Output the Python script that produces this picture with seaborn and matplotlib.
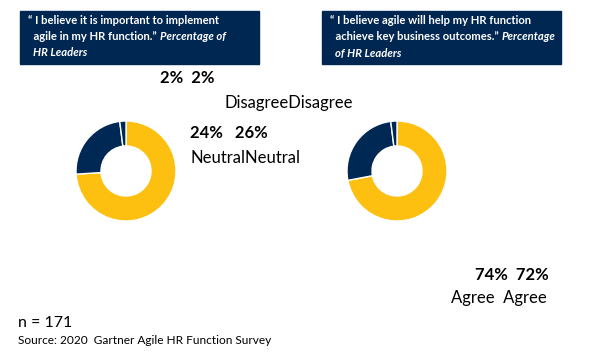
import matplotlib.pyplot as plt
from matplotlib.text import Annotation
import seaborn as sns

sns.set_theme(style="white")
plt.rcParams['font.family'] = ['Lato', 'DejaVu Sans']

# Dados
categorias = ['Agree', 'Neutral', 'Disagree']
importante = [74, 24, 2]
resultados = [72, 26, 2]
titulo1_bold = ['\u201c I believe it is important to implement', '  agile in my HR function.\u201d ']
titulo1_ital = ['Percentage of', '  HR Leaders']
titulo2_bold = ['\u201c I believe agile will help my HR function', '  achieve key business outcomes.\u201d ']
titulo2_ital = ['Percentage', '  of HR Leaders']
amostra = 'n = 171'
fonte = 'Source: 2020  Gartner Agile HR Function Survey'

amarelo = '#FDC010'
marinho = '#002855'
cores = [amarelo, marinho, marinho]

W, H = 593, 359
fig = plt.figure(figsize=(W / 100, H / 100), dpi=100)


def px(x, y):
    return x / W, 1 - y / H


def donut(cx, cy, r, valores):
    ax = fig.add_axes([(cx - r) / W, 1 - (cy + r) / H, 2 * r / W, 2 * r / H])
    ax.pie(valores, colors=cores, startangle=90, counterclock=False,
           wedgeprops=dict(width=0.5, edgecolor='white', linewidth=1))
    ax.set_xlim(-1.02, 1.02)
    ax.set_ylim(-1.02, 1.02)
    ax.set_aspect('equal')
    ax.axis('off')


donut(126, 171, 51, importante)
donut(397, 171, 51, resultados)

# Caixas de título
tam = 8.1
for (x0, x1, bold, ital) in [(20, 259, titulo1_bold, titulo1_ital),
                             (322, 561, titulo2_bold, titulo2_ital)]:
    fig.patches.append(plt.Rectangle(px(x0, 64), (x1 - x0) / W, 53 / H,
                                     transform=fig.transFigure, color='#002652'))
    fig.text(*px(x0 + 8, 21), bold[0], color='white', fontsize=tam,
             fontweight='bold', va='center', ha='left')
    t = fig.text(*px(x0 + 8, 37), bold[1], color='white', fontsize=tam,
                 fontweight='bold', va='center', ha='left')
    fig.add_artist(Annotation(ital[0], xy=(1, 0.5), xycoords=t, va='center',
                              ha='left', color='white', fontsize=tam,
                              fontweight='bold', style='italic'))
    fig.text(*px(x0 + 8, 53), ital[1], color='white', fontsize=tam,
             fontweight='bold', style='italic', va='center', ha='left')

# Rótulos
fig.text(*px(160, 78), f'{importante[2]}%  {resultados[2]}%', fontsize=12,
         fontweight='bold', va='center', color='black')
fig.text(*px(225, 103), categorias[2] + categorias[2], fontsize=12,
         va='center', color='black')
fig.text(*px(190, 133), f'{importante[1]}%   {resultados[1]}%', fontsize=12,
         fontweight='bold', va='center', color='black')
fig.text(*px(190, 158), categorias[1] + categorias[1], fontsize=12,
         va='center', color='black')
fig.text(*px(475, 275), f'{importante[0]}%  {resultados[0]}%', fontsize=12,
         fontweight='bold', va='center', color='black')
fig.text(*px(451, 298), categorias[0] + '  ' + categorias[0], fontsize=12,
         va='center', color='black')

fig.text(*px(18, 323), amostra, fontsize=11.5, va='center', color='black')
fig.text(*px(18, 341), fonte, fontsize=8.6, va='center', color='black')

fig.savefig('out.png', dpi=100)
